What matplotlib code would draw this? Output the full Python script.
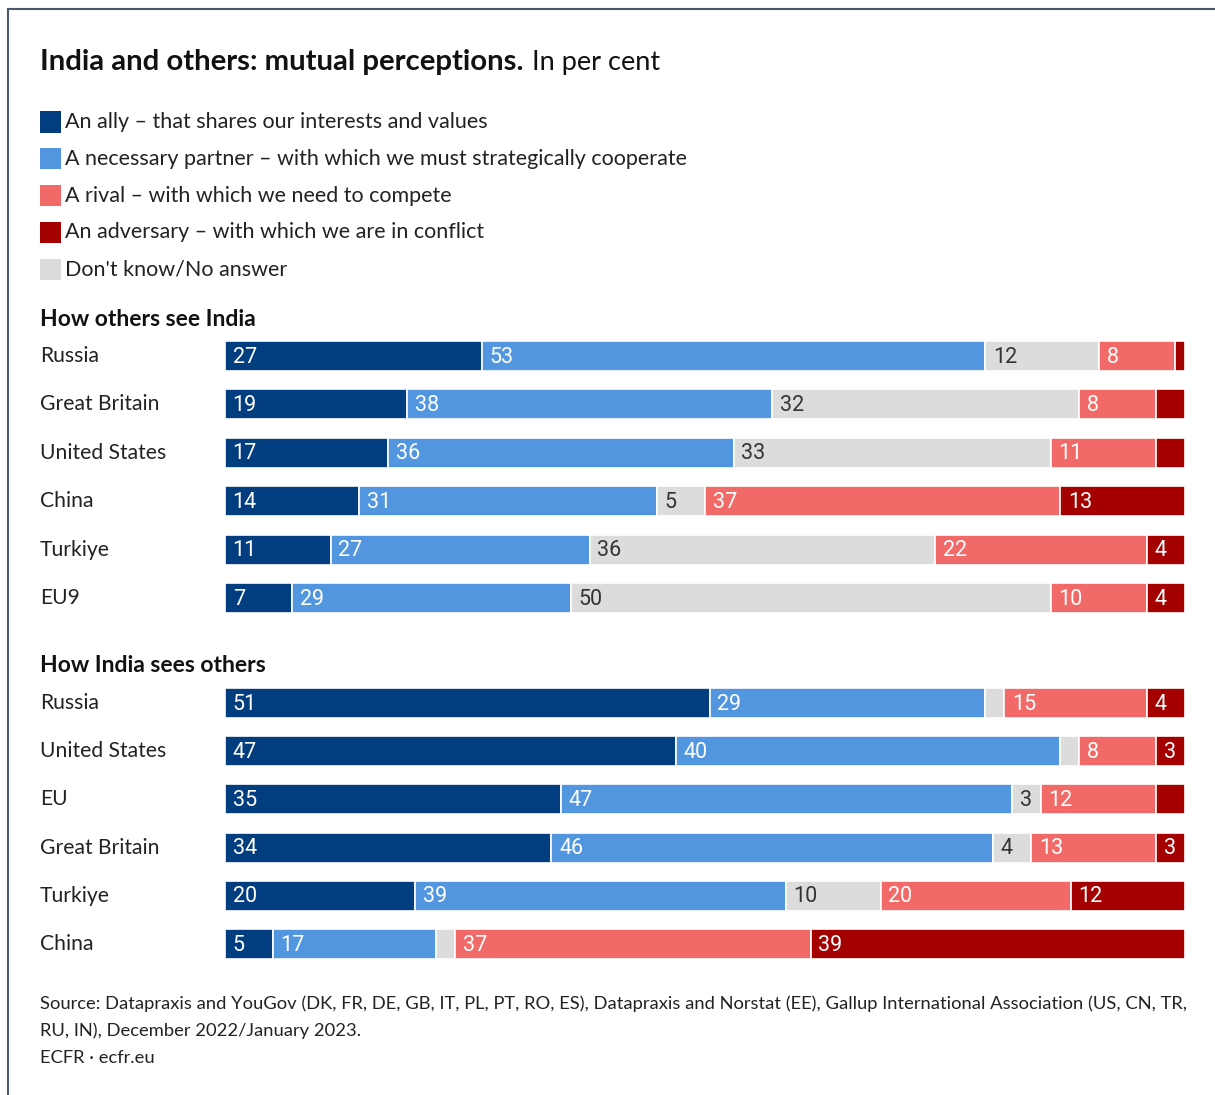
import numpy as np
import matplotlib
matplotlib.use("Agg")
import matplotlib.pyplot as plt
from matplotlib.patches import Rectangle
from matplotlib.lines import Line2D
from matplotlib.transforms import blended_transform_factory

#%% Data (per cent)
categories = ["An ally – that shares our interests and values",
              "A necessary partner – with which we must strategically cooperate",
              "Don't know/No answer",
              "A rival – with which we need to compete",
              "An adversary – with which we are in conflict"]
legend_order = [0, 1, 3, 4, 2]

others_countries = ["Russia", "Great Britain", "United States", "China", "Turkiye", "EU9"]
others_ally = [27, 19, 17, 14, 11, 7]
others_partner = [53, 38, 36, 31, 27, 29]
others_dk = [12, 32, 33, 5, 36, 50]
others_rival = [8, 8, 11, 37, 22, 10]
others_adversary = [1, 3, 3, 13, 4, 4]

india_countries = ["Russia", "United States", "EU", "Great Britain", "Turkiye", "China"]
india_ally = [51, 47, 35, 34, 20, 5]
india_partner = [29, 40, 47, 46, 39, 17]
india_dk = [2, 2, 3, 4, 10, 2]
india_rival = [15, 8, 12, 13, 20, 37]
india_adversary = [4, 3, 3, 3, 12, 39]

# segments left without a number (row, column)
others_unlabelled = [(0, 4), (1, 4), (2, 4)]
india_unlabelled = [(0, 2), (1, 2), (2, 4), (5, 2)]

colors = ["#023d80", "#5396e0", "#dcdcdc", "#f26a67", "#a50000"]
label_colors = ["white", "white", "#333333", "white", "white"]

W, H = 1215, 1095
def fx(x):
    return x / W
def fy(y):
    return 1 - y / H

plt.rcParams["font.family"] = "Lato"
fig = plt.figure(figsize=(W / 100, H / 100), dpi=100)

# frame
fig.add_artist(Line2D([fx(8), fx(8)], [fy(9), 0], color="#4a586e", linewidth=1.5))
fig.add_artist(Line2D([fx(8), 1], [fy(9), fy(9)], color="#4a586e", linewidth=1.5))

#%% Title
t1 = fig.text(fx(40), fy(70), "India and others: mutual perceptions.", fontsize=21.2,
              fontweight="bold", color="#111111", va="baseline", ha="left")
fig.canvas.draw()
bb = t1.get_window_extent()
fig.text(bb.x1 / W + fx(9), fy(70), "In per cent", fontsize=19.5, color="#111111",
         va="baseline", ha="left")

#%% Legend
for i, k in enumerate(legend_order):
    yc = 122 + i * 36.8
    fig.add_artist(Rectangle((fx(40), fy(yc + 10.5)), fx(21), 21 / H,
                             transform=fig.transFigure, facecolor=colors[k], edgecolor="none"))
    fig.text(fx(65), fy(yc), categories[k], fontsize=15.5, color="#222222",
             va="center", ha="left")


def stacked_panel(top_px, spacing, countries, series, unlabelled, header, header_y):
    n = len(countries)
    ax = fig.add_axes([fx(225), fy(top_px + n * spacing), fx(960), n * spacing / H])
    data = np.array(series, dtype=float).T
    shares = data / data.sum(axis=1, keepdims=True) * 100
    y = np.arange(n)
    left = np.zeros(n)
    for j in range(data.shape[1]):
        ax.barh(y, shares[:, j], left=left, height=0.62, color=colors[j],
                edgecolor="white", linewidth=1.2)
        for i in range(n):
            if (i, j) in unlabelled:
                continue
            ax.annotate(f"{data[i, j]:.0f}", xy=(left[i], y[i]), xytext=(5.5, -0.8),
                        textcoords="offset points", va="center", ha="left",
                        fontsize=15.5, family="Roboto", color=label_colors[j])
        left += shares[:, j]
    ax.set_xlim(0, 100)
    ax.set_ylim(n - 0.5, -0.5)
    ax.axis("off")
    tr = blended_transform_factory(fig.transFigure, ax.transData)
    for i, c in enumerate(countries):
        ax.text(fx(40), i, c, transform=tr, fontsize=15.2, color="#222222",
                va="center", ha="left")
    fig.text(fx(40), fy(header_y), header, fontsize=16.5, fontweight="bold",
             color="#111111", va="center", ha="left")
    return ax


stacked_panel(331.8, 48.4, others_countries,
              [others_ally, others_partner, others_dk, others_rival, others_adversary],
              others_unlabelled, "How others see India", 319)
stacked_panel(678.9, 48.2, india_countries,
              [india_ally, india_partner, india_dk, india_rival, india_adversary],
              india_unlabelled, "How India sees others", 666)

#%% Source
source_lines = ["Source: Datapraxis and YouGov (DK, FR, DE, GB, IT, PL, PT, RO, ES), Datapraxis and Norstat (EE), Gallup International Association (US, CN, TR,",
                "RU, IN), December 2022/January 2023.",
                "ECFR · ecfr.eu"]
for i, line in enumerate(source_lines):
    fig.text(fx(40), fy(1004 + i * 27), line, fontsize=13.2, color="#222222",
             va="center", ha="left")

fig.savefig("out.png", dpi=100)
